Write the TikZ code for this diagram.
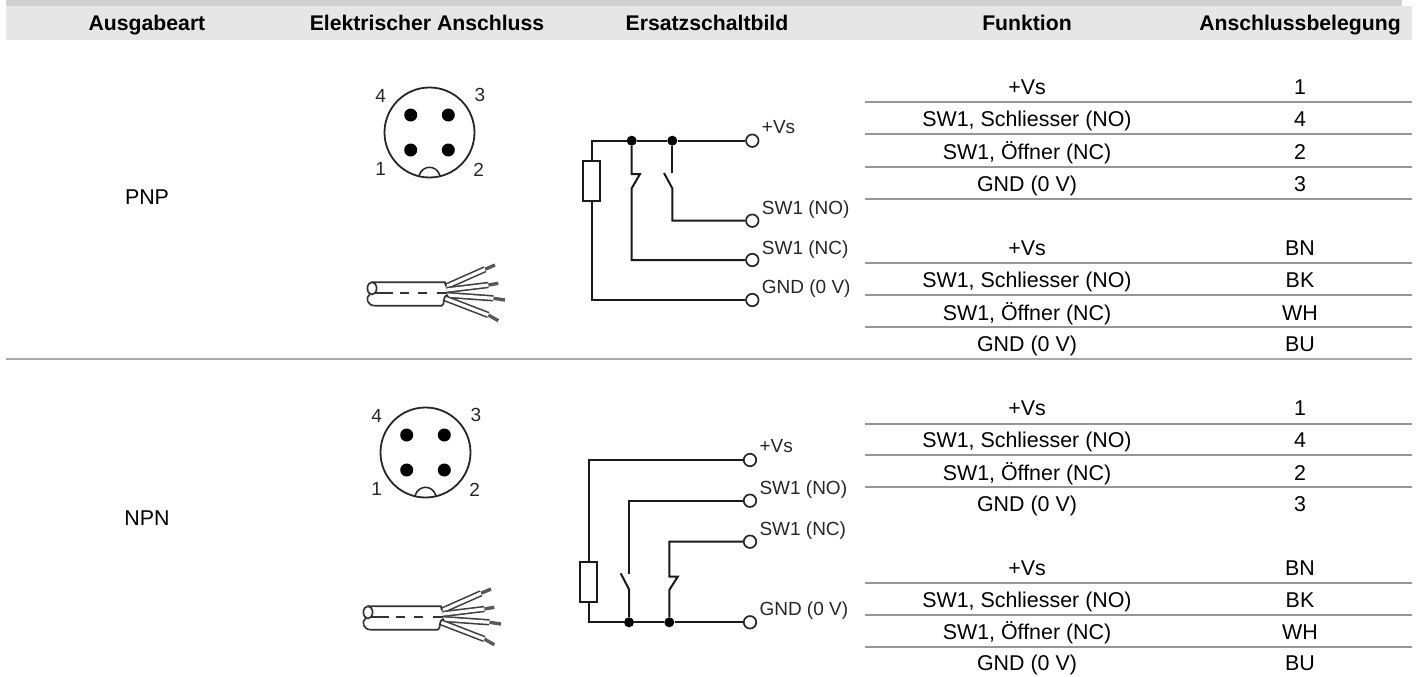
\documentclass[tikz,border=0pt]{standalone}
\usepackage{fontspec}
\setmainfont{Liberation Sans}
\definecolor{bandtop}{HTML}{CFD0D2}
\definecolor{bandhead}{HTML}{E6E6E6}
\definecolor{rulecol}{HTML}{969696}
\definecolor{splitcol}{HTML}{A8A8A8}
\tikzset{
	headcell/.style={anchor=base,inner sep=0pt,font=\fontsize{21.2}{25}\selectfont\bfseries},
	cell/.style={anchor=base,inner sep=0pt,font=\fontsize{21.4}{25}\selectfont},
	termlabel/.style={anchor=base west,inner sep=0pt,text=black!85,font=\fontsize{19}{23}\selectfont},
	pinlabel/.style={anchor=base,inner sep=0pt,text=black!85,font=\fontsize{19}{23}\selectfont},
	wire/.style={line width=2pt,black!90},
	term/.style={circle,draw,line width=1.7pt,black!85,fill=white,minimum size=12.5pt,inner sep=0pt},
	junct/.style={circle,fill=black,minimum size=10pt,inner sep=0pt},
	resist/.style={rectangle,draw,line width=2pt,black!90,fill=white,minimum width=16.5pt,minimum height=40pt,inner sep=0pt},
	rowrule/.style={rulecol,line width=1.2pt},
	pin/.style={fill=black},
	pics/plug/.style={code={
		\draw[line width=1.8pt,black!85] (0,0) circle [radius=45];
		\fill[pin] (-18.8,-17.5) circle [radius=6.5];
		\fill[pin] (18.8,-17.5) circle [radius=6.5];
		\fill[pin] (-18.8,17.5) circle [radius=6.5];
		\fill[pin] (18.8,17.5) circle [radius=6.5];
		\draw[line width=1.5pt,black!85] (-10.5,43.2) .. controls (-7,32) and (7,32) .. (10.5,43.2);
		\node[pinlabel] (-n4) at (-48.8,-30.2) {4};
		\node[pinlabel] (-n3) at (50.5,-30.8) {3};
		\node[pinlabel] (-n1) at (-48.8,42.5) {1};
		\node[pinlabel] (-n2) at (49.2,44.2) {2};
	}},
	barelead/.style={line width=3.4pt,black!65},
	lead/.style={line width=1.6pt,black!75,double=white,double distance=3.2pt},
	sheath/.style={line width=1.7pt,black!80},
	pics/cable/.style={code={
		\draw[barelead] (110,-24.2) -- (120,-28.5);
		\draw[barelead] (113.3,-8.5) -- (123.3,-10.2);
		\draw[barelead] (118.3,4.8) -- (130,6.5);
		\draw[barelead] (113.3,21.5) -- (123.3,27.2);
		\draw[lead] (70.7,-6.8) -- (110,-24.2);
		\draw[lead] (71.7,-3.5) -- (113.3,-8.5);
		\draw[lead] (71.7,1.5) -- (118.3,4.8);
		\draw[lead] (70,4.8) -- (113.3,21.5);
		\draw[sheath] (-3,-11.2) -- (70,-11.2) -- (71,-7);
		\draw[sheath] (0,12.2) -- (66.7,12.2) .. controls (71,11) and (66,3) .. (73,1.5);
		\draw[sheath] (-3,-5.2) ellipse [x radius=4.6,y radius=6.2];
		\draw[sheath] (-5,0.5) .. controls (-10,4) and (-8,12.2) .. (0,12.2);
		\draw[sheath] (0,-0.2) -- (18.3,-0.2);
		\draw[sheath] (25,-0.2) -- (34.3,-0.2);
		\draw[sheath] (43.3,-0.2) -- (51.7,-0.2);
		\draw[sheath] (62.3,-0.2) -- (71.7,-0.2);
	}},
}
\begin{document}
\begin{tikzpicture}[x=1pt,y=-1pt]
	\useasboundingbox (0,0) rectangle (1421,677);
	% header
	\fill[bandtop] (6,0) rectangle (1402,6);
	\fill[bandhead] (6,6) rectangle (1412,40);
	\node[headcell] (hart) at (147,30.7) {Ausgabeart};
	\node[headcell] (hans) at (427,30.7) {Elektrischer Anschluss};
	\node[headcell] (hers) at (707,30.7) {Ersatzschaltbild};
	\node[headcell] (hfun) at (1027,30.7) {Funktion};
	\node[headcell] (hbel) at (1300,30.7) {Anschlussbelegung};
	\node[cell] (pnp) at (147,204) {PNP};
	\node[cell] (npn) at (147,525) {NPN};
	\draw[splitcol,line width=2pt] (6,358.5) -- (1412,358.5);
	% table rules
	\draw[rowrule] (865,102) -- (1412,102);
	\draw[rowrule] (865,134) -- (1412,134);
	\draw[rowrule] (865,167) -- (1412,167);
	\draw[rowrule] (865,199) -- (1412,199);
	\draw[rowrule] (865,263) -- (1412,263);
	\draw[rowrule] (865,295) -- (1412,295);
	\draw[rowrule] (865,327) -- (1412,327);
	\draw[rowrule] (865,424) -- (1412,424);
	\draw[rowrule] (865,455) -- (1412,455);
	\draw[rowrule] (865,487) -- (1412,487);
	\draw[rowrule] (865,583) -- (1412,583);
	\draw[rowrule] (865,615) -- (1412,615);
	\draw[rowrule] (865,647) -- (1412,647);
	% table text, PNP
	\node[cell] (fa1) at (1027,95) {+Vs};
	\node[cell] (fa2) at (1027,126.7) {SW1, Schliesser (NO)};
	\node[cell] (fa3) at (1027,159) {SW1, Öffner (NC)};
	\node[cell] (fa4) at (1027,191.7) {GND (0 V)};
	\node[cell] (fa5) at (1027,255.7) {+Vs};
	\node[cell] (fa6) at (1027,287.7) {SW1, Schliesser (NO)};
	\node[cell] (fa7) at (1027,320) {SW1, Öffner (NC)};
	\node[cell] (fa8) at (1027,351) {GND (0 V)};
	\node[cell] (ba1) at (1300,95) {1};
	\node[cell] (ba2) at (1300,126.7) {4};
	\node[cell] (ba3) at (1300,159) {2};
	\node[cell] (ba4) at (1300,191.7) {3};
	\node[cell] (ba5) at (1300,255.7) {BN};
	\node[cell] (ba6) at (1300,287.7) {BK};
	\node[cell] (ba7) at (1300,320) {WH};
	\node[cell] (ba8) at (1300,351) {BU};
	% table text, NPN
	\node[cell] (fb1) at (1027,415.7) {+Vs};
	\node[cell] (fb2) at (1027,447.3) {SW1, Schliesser (NO)};
	\node[cell] (fb3) at (1027,480) {SW1, Öffner (NC)};
	\node[cell] (fb4) at (1027,511.7) {GND (0 V)};
	\node[cell] (fb5) at (1027,575.7) {+Vs};
	\node[cell] (fb6) at (1027,607.3) {SW1, Schliesser (NO)};
	\node[cell] (fb7) at (1027,639.3) {SW1, Öffner (NC)};
	\node[cell] (fb8) at (1027,670.7) {GND (0 V)};
	\node[cell] (bb1) at (1300,415.7) {1};
	\node[cell] (bb2) at (1300,447.3) {4};
	\node[cell] (bb3) at (1300,480) {2};
	\node[cell] (bb4) at (1300,511.7) {3};
	\node[cell] (bb5) at (1300,575.7) {BN};
	\node[cell] (bb6) at (1300,607.3) {BK};
	\node[cell] (bb7) at (1300,639.3) {WH};
	\node[cell] (bb8) at (1300,670.7) {BU};
	% plugs and cables
	\pic (plugA) at (429.5,132.5) {plug};
	\pic (plugB) at (425.5,452.5) {plug};
	\pic (cableA) at (375,293.5) {cable};
	\pic (cableB) at (371,617.5) {cable};
	% circuit PNP
	\node[term] (avs) at (752.3,140.7) {};
	\node[term] (ano) at (752.3,220.7) {};
	\node[term] (anc) at (752.3,260) {};
	\node[term] (agnd) at (752.3,300) {};
	\node[junct] (aj1) at (631.7,140.7) {};
	\node[junct] (aj2) at (672.3,140.7) {};
	\node[resist] (ar) at (591.7,180.7) {};
	\coordinate (ancu) at (631.7,174);
	\coordinate (ancv) at (640,174);
	\coordinate (ancw) at (631.7,188.3);
	\coordinate (anou) at (672.3,173);
	\coordinate (anov) at (664,173);
	\coordinate (anow) at (672.3,188.3);
	\draw[wire] (avs) -- (aj2) -- (aj1) -| (ar.north);
	\draw[wire] (ar.south) |- (agnd);
	\draw[wire] (aj1) -- (ancu) -- (ancv) -- (ancw) |- (anc);
	\draw[wire] (aj2) -- (anou);
	\draw[wire] (anov) -- (anow) |- (ano);
	\node[termlabel] (lavs) at (761.7,133.3) {+Vs};
	\node[termlabel] (lano) at (761.7,214) {SW1 (NO)};
	\node[termlabel] (lanc) at (761.7,254) {SW1 (NC)};
	\node[termlabel] (lagnd) at (761.7,293.3) {GND (0 V)};
	% circuit NPN
	\node[term] (bvs) at (750,460) {};
	\node[term] (bno) at (750,500.7) {};
	\node[term] (bnc) at (750,541.7) {};
	\node[term] (bgnd) at (750,622.3) {};
	\node[junct] (bj1) at (629,622.3) {};
	\node[junct] (bj2) at (669.3,622.3) {};
	\node[resist] (br) at (588.7,582) {};
	\coordinate (bnou) at (629,574.3);
	\coordinate (bnov) at (620.7,573.3);
	\coordinate (bnow) at (629,589.3);
	\coordinate (bncu) at (669.3,576.7);
	\coordinate (bncv) at (677.7,576.7);
	\coordinate (bncw) at (669.3,590);
	\draw[wire] (bvs) -| (br.north);
	\draw[wire] (br.south) |- (bj1);
	\draw[wire] (bj1) -- (bj2) -- (bgnd);
	\draw[wire] (bno) -| (bnou);
	\draw[wire] (bnov) -- (bnow) -- (bj1);
	\draw[wire] (bnc) -| (bncu) -- (bncv) -- (bncw) -- (bj2);
	\node[termlabel] (lbvs) at (759.3,452.7) {+Vs};
	\node[termlabel] (lbno) at (759.3,494.3) {SW1 (NO)};
	\node[termlabel] (lbnc) at (759.3,535) {SW1 (NC)};
	\node[termlabel] (lbgnd) at (759.3,615.7) {GND (0 V)};
\end{tikzpicture}
\end{document}
